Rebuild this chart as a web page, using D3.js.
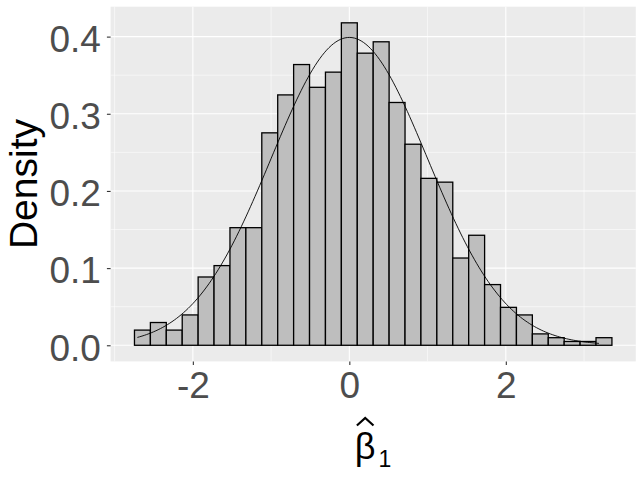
<!DOCTYPE html>
<html>
<head>
<meta charset="utf-8">
<script src="https://cdn.jsdelivr.net/npm/d3@7"></script>
<style>
  html, body { margin: 0; padding: 0; background: #fff; }
  svg { display: block; font-family: "Liberation Sans", Arial, sans-serif; }
</style>
</head>
<body>
<svg id="chart" width="643" height="483"></svg>
<script>
// ---- data ----
const nSamples = 1000;
const dataMin = -2.709;
const dataMax = 3.19;
const binCounts = [4, 6, 4, 8, 18, 21, 31, 31, 56, 66, 74, 68, 72, 85, 77, 80, 64, 53, 44, 43, 23, 29, 16, 10, 8, 3, 2, 1, 1, 2];
const curveMean = 0;
const curveSd = 1;
const xTicks = [-2, 0, 2];
const xMinor = [-3, -1, 1, 3];
const yTicks = [0, 0.1, 0.2, 0.3, 0.4];
const yTickLabels = ["0.0", "0.1", "0.2", "0.3", "0.4"];
const yMinor = [0.05, 0.15, 0.25, 0.35];

// ---- derived bins (ggplot2 bins = 30 rule) ----
const nBins = binCounts.length;
const binWidth = (dataMax - dataMin) / (nBins - 1);
const boundary = binWidth / 2;
const origin = boundary + Math.floor((dataMin - boundary) / binWidth) * binWidth;
const bins = binCounts.map((c, i) => ({
  x0: origin + i * binWidth,
  x1: origin + (i + 1) * binWidth,
  density: c / (nSamples * binWidth)
}));

const dnorm = x => Math.exp(-0.5 * ((x - curveMean) / curveSd) ** 2) / (curveSd * Math.sqrt(2 * Math.PI));
const curvePts = d3.range(0, 201).map(i => {
  const x = dataMin + (dataMax - dataMin) * i / 200;
  return { x, y: dnorm(x) };
});

// ---- layout ----
const panel = { left: 110.6, right: 635.8, top: 6.7, bottom: 361.4 };

const xLo = bins[0].x0, xHi = bins[nBins - 1].x1;
const xPad = (xHi - xLo) * 0.05;
const yMax = Math.max(d3.max(bins, d => d.density), d3.max(curvePts, d => d.y));
const yPad = yMax * 0.05;

const x = d3.scaleLinear().domain([xLo - xPad, xHi + xPad]).range([panel.left, panel.right]);
const y = d3.scaleLinear().domain([0 - yPad, yMax + yPad]).range([panel.bottom, panel.top]);

const svg = d3.select("#chart");

// panel background
svg.append("rect")
  .attr("x", panel.left).attr("y", panel.top)
  .attr("width", panel.right - panel.left).attr("height", panel.bottom - panel.top)
  .attr("fill", "#EBEBEB");

const grid = svg.append("g");
grid.selectAll(".ymin").data(yMinor).join("line")
  .attr("x1", panel.left).attr("x2", panel.right)
  .attr("y1", d => y(d)).attr("y2", d => y(d))
  .attr("stroke", "#fff").attr("stroke-width", 0.55);
grid.selectAll(".xmin").data(xMinor).join("line")
  .attr("x1", d => x(d)).attr("x2", d => x(d))
  .attr("y1", panel.top).attr("y2", panel.bottom)
  .attr("stroke", "#fff").attr("stroke-width", 0.55);
grid.selectAll(".ymaj").data(yTicks).join("line")
  .attr("x1", panel.left).attr("x2", panel.right)
  .attr("y1", d => y(d)).attr("y2", d => y(d))
  .attr("stroke", "#fff").attr("stroke-width", 1.1);
grid.selectAll(".xmaj").data(xTicks).join("line")
  .attr("x1", d => x(d)).attr("x2", d => x(d))
  .attr("y1", panel.top).attr("y2", panel.bottom)
  .attr("stroke", "#fff").attr("stroke-width", 1.1);

// bars
svg.append("g").selectAll("rect").data(bins).join("rect")
  .attr("x", d => x(d.x0))
  .attr("y", d => y(d.density))
  .attr("width", d => x(d.x1) - x(d.x0))
  .attr("height", d => y(0) - y(d.density))
  .attr("fill", "#BEBEBE")
  .attr("stroke", "#000")
  .attr("stroke-width", 1.3);

// density curve
svg.append("path")
  .datum(curvePts)
  .attr("d", d3.line().x(d => x(d.x)).y(d => y(d.y)))
  .attr("fill", "none")
  .attr("stroke", "#000")
  .attr("stroke-width", 0.9);

// axes
const yAxis = d3.axisLeft(y).tickValues(yTicks).tickFormat((d, i) => yTickLabels[i]).tickSize(3.7).tickPadding(6);
const gy = svg.append("g").attr("transform", `translate(${panel.left},0)`).call(yAxis);
gy.select(".domain").remove();
gy.selectAll(".tick line").attr("stroke", "#333333").attr("stroke-width", 1.1);
gy.selectAll(".tick text")
  .attr("fill", "#4D4D4D")
  .attr("font-size", 37)
  .attr("font-family", "Liberation Sans, Arial, sans-serif")
  .attr("dy", "0.4em");

const xAxis = d3.axisBottom(x).tickValues(xTicks).tickFormat(d => String(d)).tickSize(3.7).tickPadding(4);
const gx = svg.append("g").attr("transform", `translate(0,${panel.bottom})`).call(xAxis);
gx.select(".domain").remove();
gx.selectAll(".tick line").attr("stroke", "#333333").attr("stroke-width", 1.1);
gx.selectAll(".tick text")
  .attr("fill", "#4D4D4D")
  .attr("font-size", 37)
  .attr("font-family", "Liberation Sans, Arial, sans-serif")
  .attr("y", 0)
  .attr("dy", 0)
  .attr("transform", "translate(0,37)");

// y title
svg.append("text")
  .attr("transform", `translate(37,${(panel.top + panel.bottom) / 2}) rotate(-90)`)
  .attr("text-anchor", "middle")
  .attr("font-size", 39)
  .attr("fill", "#000")
  .text("Density");

// x title: beta hat with subscript 1
const cx = (panel.left + panel.right) / 2;
const xt = svg.append("g");
const beta = xt.append("text")
  .attr("x", cx - 8).attr("y", 459)
  .attr("text-anchor", "middle")
  .attr("font-size", 36)
  .attr("fill", "#000")
  .text("β");
const bb = beta.node().getBBox();
xt.append("text")
  .attr("x", bb.x + bb.width + 3).attr("y", 467)
  .attr("font-size", 23)
  .attr("fill", "#000")
  .text("1");
const hx = bb.x + bb.width / 2;
xt.append("path")
  .attr("d", `M${hx - 8.3},425.5 L${hx},418 L${hx + 8.3},425.5`)
  .attr("fill", "none")
  .attr("stroke", "#000")
  .attr("stroke-width", 2.2);
</script>
</body>
</html>
